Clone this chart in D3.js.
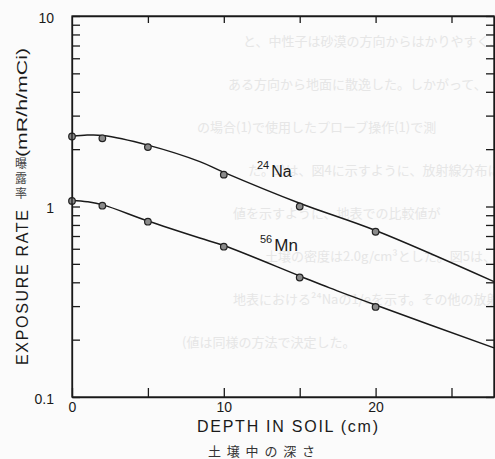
<!DOCTYPE html>
<html>
<head>
<meta charset="utf-8">
<script src="https://cdn.jsdelivr.net/npm/d3@7"></script>
<style>
  body { margin: 0; background: #fbfbfb; }
  svg { display: block; }
  .ax path, .ax line { stroke: #1a1a1a; stroke-width: 1.3; }
  .ax text { font-family: "Liberation Sans", Arial, sans-serif; fill: #1a1a1a; }
</style>
</head>
<body>
<svg id="chart" width="495" height="459"></svg>
<script>
// measured points (depth cm, exposure rate mR/h/mCi)
var depths = [0, 2, 5, 10, 15, 20];
var naRate = [2.33, 2.28, 2.05, 1.47, 1.0, 0.737];
var mnRate = [1.07, 1.01, 0.832, 0.615, 0.424, 0.297];

// fitted curves
var naCurveX = [0, 1, 2.04, 5, 8.42, 9.93, 15, 20, 27.8];
var naCurveY = [2.33, 2.37, 2.36, 2.10, 1.72, 1.52, 1.04, 0.748, 0.403];
var mnCurveX = [0, 1, 2.04, 5, 8.42, 10, 15, 16.97, 20, 27.8];
var mnCurveY = [1.08, 1.06, 1.02, 0.839, 0.683, 0.624, 0.432, 0.374, 0.304, 0.181];

var xMajor = [0, 10, 20];
var xMinor = [5, 15, 25];
var yLabels = [0.1, 1, 10];

// faint show-through text from the reverse page
var ghostLines = [
  "と、中性子は砂漠の方向からはかりやすく、微",
  "ある方向から地面に散逸した。しかがって、",
  "の場合(1)で使用したプローブ操作(1)で測",
  "た。1)は、図4に示すように、放射線分布に",
  "値を示すように、地表での比較値が",
  "土壌の密度は2.0g/cm³とした。図5は、",
  "地表における²⁴Naの1/eを示す。その他の放射",
  "(値は同様の方法で決定した。"
];
var ghostX = [243, 228, 197, 248, 233, 265, 233, 182];

var svg = d3.select("#chart");
var pLeft = 72, pRight = 494, pTop = 16, pBottom = 397;

var x = d3.scaleLinear().domain([0, 27.8]).range([pLeft, pRight]);
var y = d3.scaleLog().domain([0.1, 10]).range([pBottom, pTop]);

// ghost text
svg.append("g").selectAll("text")
  .data(ghostLines)
  .enter().append("text")
  .attr("x", function(d, i){ return ghostX[i]; })
  .attr("y", function(d, i){ return 46 + i * 43; })
  .style("font-family", "'Noto Sans CJK JP'")
  .style("font-size", "13px")
  .style("fill", "#e6e6e6")
  .text(function(d){ return d; });

var yTicks = y.ticks();

// left axis, ticks inside
svg.append("g").attr("class", "ax")
  .attr("transform", "translate(" + pLeft + ",0)")
  .call(d3.axisLeft(y).tickValues(yTicks).tickSizeInner(-8).tickSizeOuter(0).tickPadding(18)
    .tickFormat(function(d){ return yLabels.indexOf(d) >= 0 ? String(d) : ""; }))
  .call(function(g){ g.selectAll("text").style("font-size", "14px").attr("dy", "0.45em"); });

// right axis
svg.append("g").attr("class", "ax")
  .attr("transform", "translate(" + pRight + ",0)")
  .call(d3.axisRight(y).tickValues(yTicks).tickSizeInner(-8).tickSizeOuter(0).tickFormat(""));

// bottom axis
svg.append("g").attr("class", "ax")
  .attr("transform", "translate(0," + pBottom + ")")
  .call(d3.axisBottom(x).tickValues(xMajor.concat(xMinor)).tickSizeInner(-9).tickSizeOuter(0).tickPadding(5)
    .tickFormat(function(d){ return xMajor.indexOf(d) >= 0 ? d : ""; }))
  .call(function(g){ g.selectAll("text").style("font-size", "14px"); });

// top axis
svg.append("g").attr("class", "ax")
  .attr("transform", "translate(0," + pTop + ")")
  .call(d3.axisTop(x).tickValues(xMajor.slice(1).concat(xMinor)).tickSizeInner(-7).tickSizeOuter(0).tickFormat(""));

// curves
var line = d3.line()
  .x(function(d){ return x(d[0]); })
  .y(function(d){ return y(d[1]); })
  .curve(d3.curveCatmullRom);

[[naCurveX, naCurveY], [mnCurveX, mnCurveY]].forEach(function(c){
  svg.append("path")
    .datum(d3.zip(c[0], c[1]))
    .attr("d", line)
    .style("fill", "none")
    .style("stroke", "#1a1a1a")
    .style("stroke-width", 1.5);
});

// markers
[naRate, mnRate].forEach(function(vals){
  svg.append("g").selectAll("circle")
    .data(d3.zip(depths, vals))
    .enter().append("circle")
    .attr("cx", function(d){ return x(d[0]); })
    .attr("cy", function(d){ return y(d[1]); })
    .attr("r", 3.3)
    .style("fill", "#8a8a8a")
    .style("stroke", "#222")
    .style("stroke-width", 1.2);
});

// series labels
function isoLabel(mass, sym, px, py, fs){
  var t = svg.append("text").attr("x", px).attr("y", py)
    .style("font-family", "'Liberation Sans', Arial, sans-serif").style("fill", "#1a1a1a");
  t.append("tspan").attr("dy", -8).style("font-size", "11px").text(mass);
  t.append("tspan").attr("dy", 8).attr("dx", 2).style("font-size", fs + "px").text(sym);
}
isoLabel("24", "Na", 257, 177, 16);
isoLabel("56", "Mn", 260, 251, 17);

// axis titles
svg.append("text")
  .attr("transform", "translate(28,365) rotate(-90)")
  .attr("textLength", 155).attr("lengthAdjust", "spacing")
  .style("font-family", "'Liberation Sans', Arial, sans-serif")
  .style("font-size", "16px").style("fill", "#1a1a1a")
  .text("EXPOSURE RATE");

svg.append("text")
  .attr("transform", "translate(27,157) rotate(-90)")
  .attr("textLength", 109).attr("lengthAdjust", "spacingAndGlyphs")
  .style("font-family", "'Liberation Sans', Arial, sans-serif")
  .style("font-size", "15px").style("fill", "#1a1a1a")
  .text("(mR/h/mCi)");

svg.append("g").selectAll("text")
  .data(["曝", "露", "率"])
  .enter().append("text")
  .attr("x", 21)
  .attr("y", function(d, i){ return 168 + i * 15; })
  .attr("text-anchor", "middle")
  .style("font-family", "'Noto Sans CJK JP'")
  .style("font-size", "12px").style("fill", "#444")
  .text(function(d){ return d; });

svg.append("text")
  .attr("x", 197).attr("y", 432)
  .attr("textLength", 181).attr("lengthAdjust", "spacing")
  .style("font-family", "'Liberation Sans', Arial, sans-serif")
  .style("font-size", "16px").style("fill", "#1a1a1a")
  .text("DEPTH IN SOIL (cm)");

svg.append("text")
  .attr("x", 208).attr("y", 456)
  .attr("textLength", 107).attr("lengthAdjust", "spacing")
  .style("font-family", "'Noto Sans CJK JP'")
  .style("font-size", "13px").style("fill", "#333")
  .text("土壌中の深さ");

// frame
svg.append("rect")
  .attr("x", pLeft).attr("y", pTop)
  .attr("width", pRight - pLeft).attr("height", pBottom - pTop)
  .style("fill", "none").style("stroke", "#1a1a1a").style("stroke-width", 1.3);
</script>
</body>
</html>
